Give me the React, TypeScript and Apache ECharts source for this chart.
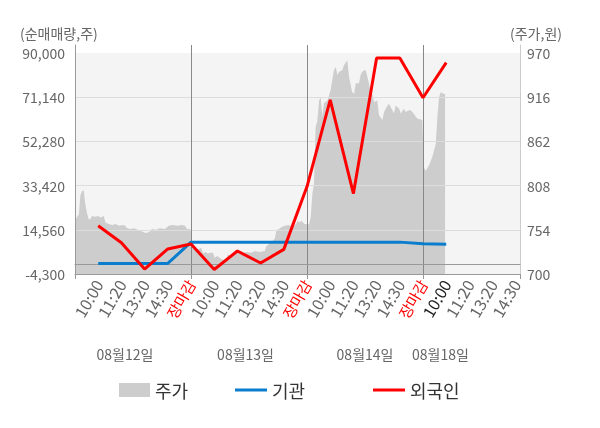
import React, { useEffect, useRef } from 'react';
import * as echarts from 'echarts';

const FONT = "'Noto Sans CJK KR', 'Noto Sans', sans-serif";

// x-axis: each trading day spans 5 units; label slots at 1..19
const xLabels = [
  '10:00', '11:20', '13:20', '14:30', '장마감',
  '10:00', '11:20', '13:20', '14:30', '장마감',
  '10:00', '11:20', '13:20', '14:30', '장마감',
  '10:00', '11:20', '13:20', '14:30',
];
const closeLabel = '장마감';
const currentLabelIndex = 16;
const xEnd = 19.18;
const dayInterval = 5;

const dateLabels = ['08월12일', '08월13일', '08월14일', '08월18일'];
const datePositions = [2.15, 7.35, 12.5, 15.75];

// net buying lines (shares), one value per label slot
const linePositions = [1, 2, 3, 4, 5, 6, 7, 8, 9, 10, 11, 12, 13, 14, 15, 16];
const institutionNet = [200, 200, 200, 200, 9300, 9300, 9300, 9300, 9300, 9300, 9300, 9300, 9300, 9300, 8600, 8400];
const foreignNet = [16300, 9000, -2200, 6400, 8500, -2400, 5500, 400, 6200, 33000, 70000, 30000, 87900, 87900, 70900, 85900];

// share price (won) sampled along the x axis
const pricePoints: [number, number][] = [
  [0.01, 765], [0.09, 770], [0.17, 773], [0.23, 796], [0.30, 801], [0.38, 802], [0.44, 786], [0.52, 774],
  [0.59, 767], [0.66, 767], [0.73, 771], [0.85, 770], [1.0, 771], [1.1, 769], [1.24, 771], [1.31, 763],
  [1.45, 761], [1.6, 760], [1.75, 761], [1.9, 759], [2.05, 760], [2.17, 759], [2.24, 756], [2.4, 755],
  [2.55, 756], [2.7, 754], [2.81, 753], [2.96, 751], [3.05, 750], [3.18, 751], [3.32, 755], [3.5, 754],
  [3.65, 756], [3.88, 755], [4.04, 759], [4.2, 760], [4.4, 759], [4.6, 760], [4.74, 759], [4.83, 755],
  [4.96, 755],
  [5.0, 752], [5.04, 740], [5.16, 732], [5.3, 730], [5.44, 732], [5.52, 725], [5.62, 727], [5.73, 725],
  [5.81, 726], [5.95, 726], [6.02, 720], [6.13, 722], [6.24, 720], [6.31, 718], [6.42, 717], [6.52, 718],
  [6.59, 724], [6.7, 722], [6.88, 724], [7.03, 726], [7.2, 725], [7.4, 727], [7.6, 726], [7.75, 728],
  [7.95, 727], [8.18, 728], [8.25, 734], [8.41, 738], [8.61, 743], [8.68, 753], [8.79, 755], [8.89, 757],
  [9.04, 759], [9.2, 760], [9.35, 758], [9.47, 759], [9.61, 765], [9.68, 763], [9.75, 765], [9.9, 761],
  [9.98, 761],
  [10.02, 760], [10.09, 761], [10.16, 769], [10.23, 798], [10.30, 810], [10.37, 880], [10.44, 886], [10.52, 912],
  [10.59, 916], [10.66, 892], [10.73, 909], [10.88, 912], [11.02, 925], [11.16, 949], [11.24, 953], [11.31, 943],
  [11.38, 947], [11.52, 949], [11.59, 955], [11.74, 961], [11.81, 941], [11.95, 922], [12.03, 920], [12.10, 933],
  [12.24, 933], [12.31, 943], [12.38, 947], [12.46, 949], [12.53, 949], [12.60, 941], [12.67, 933], [12.75, 920],
  [12.81, 920], [12.89, 910], [13.03, 912], [13.10, 894], [13.25, 888], [13.32, 898], [13.45, 905], [13.53, 908],
  [13.61, 904], [13.75, 896], [13.82, 906], [13.97, 902], [14.04, 896], [14.18, 902], [14.25, 898], [14.40, 900],
  [14.47, 900], [14.60, 896], [14.69, 892], [14.75, 890], [14.97, 888],
  [15.01, 851], [15.04, 830], [15.12, 826], [15.26, 833], [15.40, 843], [15.55, 859], [15.62, 892], [15.69, 916],
  [15.76, 922], [15.91, 920], [15.95, 920],
];

const leftTicks = [-4300, 14560, 33420, 52280, 71140, 90000];
const rightTicks = [700, 754, 808, 862, 916, 970];

// layout: plot area extends 8px above the top tick (of 221px tick span)
const topPadRatio = 8 / 221;
const leftMax = leftTicks[leftTicks.length - 1] + (leftTicks[leftTicks.length - 1] - leftTicks[0]) * topPadRatio;
const rightMax = rightTicks[rightTicks.length - 1] + (rightTicks[rightTicks.length - 1] - rightTicks[0]) * topPadRatio;

export default function App() {
  const ref = useRef<HTMLDivElement>(null);

  useEffect(() => {
    if (!ref.current) return;
    const chart = echarts.init(ref.current, undefined, { renderer: 'svg' });

    const labelFmt = (val: number) => {
      const i = Math.round(val);
      if (Math.abs(val - i) > 1e-6 || i < 1 || i > xLabels.length) return '';
      const t = xLabels[i - 1];
      if (t === closeLabel) return '{r|' + t + '}';
      if (i === currentLabelIndex) return '{k|' + t + '}';
      return t;
    };

    const option: any = {
      animation: false,
      textStyle: { fontFamily: FONT },
      grid: { left: 75, right: 80, top: 45, bottom: 154, containLabel: false },
      xAxis: [
        {
          type: 'value', position: 'bottom', min: 0, max: xEnd, interval: dayInterval, z: 3,
          axisLine: { show: true, onZero: false, lineStyle: { color: '#999999', width: 1 } },
          axisTick: { show: true, length: 5, lineStyle: { color: '#999999' } },
          axisLabel: { show: false },
          splitLine: { show: true, showMinLine: false, showMaxLine: false, lineStyle: { color: '#888888', width: 1 } },
        },
        {
          type: 'value', position: 'bottom', min: 0, max: xEnd, interval: 1, z: 3,
          axisLine: { show: false, onZero: false },
          axisTick: { show: false },
          splitLine: { show: false },
          axisLabel: {
            show: true, rotate: 60, margin: 7, fontSize: 16, color: '#666666', fontFamily: FONT,
            showMinLabel: false, showMaxLabel: false,
            formatter: labelFmt,
            rich: {
              r: { color: '#ff0000', fontSize: 15, fontFamily: FONT },
              k: { color: '#222222', fontSize: 16, fontFamily: FONT },
            },
          },
        },
        {
          type: 'value', position: 'bottom', min: 0, max: xEnd, z: 3,
          axisLine: { show: true, onZero: true, onZeroAxisIndex: 0, lineStyle: { color: '#999999', width: 1 } },
          axisTick: { show: false },
          axisLabel: { show: false },
          splitLine: { show: false },
        },
      ],
      yAxis: [
        {
          type: 'value', position: 'left', min: leftTicks[0], max: leftMax, z: 3,
          axisLine: { show: true, onZero: false, lineStyle: { color: '#999999', width: 1 } },
          axisTick: { show: false, customValues: leftTicks },
          axisLabel: {
            customValues: leftTicks, fontSize: 14, color: '#666666', margin: 10, fontFamily: FONT,
            formatter: (v: number) => v.toLocaleString('en-US'),
          },
          splitLine: { show: true, showMinLine: false, showMaxLine: false, lineStyle: { color: '#dddddd', width: 1 } },
        },
        {
          type: 'value', position: 'right', min: rightTicks[0], max: rightMax, z: 3,
          axisLine: { show: true, onZero: false, lineStyle: { color: '#cccccc', width: 1 } },
          axisTick: { show: false, customValues: rightTicks },
          axisLabel: { customValues: rightTicks, fontSize: 14, color: '#666666', margin: 7, fontFamily: FONT },
          splitLine: { show: false },
        },
      ],
      legend: [
        {
          data: ['주가'], left: 114, top: 376, icon: 'rect', itemWidth: 31, itemHeight: 14, selectedMode: false,
          textStyle: { fontSize: 18, color: '#333333', fontFamily: FONT },
        },
        {
          data: ['기관'], left: 230, top: 376, icon: 'rect', itemWidth: 32, itemHeight: 3, selectedMode: false,
          textStyle: { fontSize: 18, color: '#333333', fontFamily: FONT },
        },
        {
          data: ['외국인'], left: 368, top: 376, icon: 'rect', itemWidth: 32, itemHeight: 3, selectedMode: false,
          textStyle: { fontSize: 18, color: '#333333', fontFamily: FONT },
        },
      ],
      series: [
        {
          name: '주가', type: 'line', xAxisIndex: 0, yAxisIndex: 1, z: 1,
          data: pricePoints, symbol: 'none', color: '#cdcdcd',
          lineStyle: { width: 0 },
          areaStyle: { color: '#cdcdcd', opacity: 1, origin: 'start' },
          itemStyle: { color: '#cdcdcd' },
        },
        {
          name: '기관', type: 'line', xAxisIndex: 0, yAxisIndex: 0, z: 5,
          data: linePositions.map((p, i) => [p, institutionNet[i]]),
          symbol: 'none', color: '#0a7dcc',
          lineStyle: { width: 3, color: '#0a7dcc' },
        },
        {
          name: '외국인', type: 'line', xAxisIndex: 0, yAxisIndex: 0, z: 6,
          data: linePositions.map((p, i) => [p, foreignNet[i]]),
          symbol: 'none', color: '#ff0000',
          lineStyle: { width: 3, color: '#ff0000' },
        },
      ],
    };

    chart.setOption(option);

    const tl = chart.convertToPixel({ seriesIndex: 2 }, [0, leftTicks[leftTicks.length - 1]]) as number[];
    const br = chart.convertToPixel({ seriesIndex: 2 }, [xEnd, leftTicks[0]]) as number[];

    const graphics: any[] = [
      {
        type: 'rect', z: -1, silent: true,
        shape: { x: tl[0], y: tl[1], width: br[0] - tl[0], height: br[1] - tl[1] },
        style: { fill: '#f4f4f4' },
      },
      {
        type: 'text', x: 20, y: 33, silent: true,
        style: { text: '(순매매량,주)', fill: '#666666', fontSize: 14, fontFamily: FONT, align: 'left', verticalAlign: 'middle' },
      },
      {
        type: 'text', x: 510, y: 33, silent: true,
        style: { text: '(주가,원)', fill: '#666666', fontSize: 14, fontFamily: FONT, align: 'left', verticalAlign: 'middle' },
      },
    ];
    dateLabels.forEach((d, i) => {
      const p = chart.convertToPixel({ seriesIndex: 2 }, [datePositions[i], 0]) as number[];
      graphics.push({
        type: 'text', x: p[0], y: 354, silent: true,
        style: { text: d, fill: '#666666', fontSize: 14, fontFamily: FONT, align: 'center', verticalAlign: 'middle' },
      });
    });
    chart.setOption({ graphic: graphics });

    return () => chart.dispose();
  }, []);

  return <div ref={ref} style={{ position: 'fixed', left: 0, top: 0, width: 600, height: 428 }} />;
}
